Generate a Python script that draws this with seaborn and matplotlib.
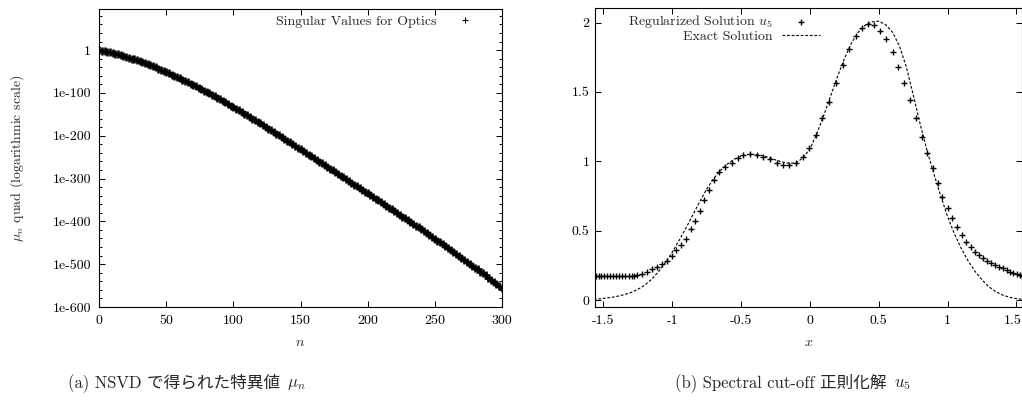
import numpy as np
import matplotlib
matplotlib.use("Agg")
import matplotlib.pyplot as plt
import matplotlib.transforms as mtransforms
import seaborn as sns
from matplotlib.offsetbox import TextArea, HPacker, AnnotationBbox

# --- datos: (a) valores singulares (log10 mu_n), (b) solucion regularizada / exacta ---
n_idx = list(range(0, 301, 2))
mu_log10 = [0,
            -1.0, -2.2, -3.6, -5.0, -6.5,
            -8.2, -9.9, -11.7, -13.6, -15.5,
            -17.5, -19.6, -21.7, -23.8, -26,
            -28.3, -30.7, -33.1, -35.5, -38,
            -40.6, -43.3, -45.9, -48.6, -51.3,
            -54.2, -57.1, -60, -62.9, -65.8,
            -68.9, -72, -75.1, -78.2, -81.3,
            -84.6, -87.9, -91.2, -94.5, -97.8,
            -101.3, -104.7, -108.2, -111.6, -115.1,
            -118.7, -122.3, -126, -129.6, -133.2,
            -137, -140.7, -144.5, -148.2, -152,
            -155.9, -159.8, -163.6, -167.5, -171.4,
            -175.4, -179.4, -183.3, -187.3, -191.3,
            -195.3, -199.4, -203.4, -207.5, -211.5,
            -215.6, -219.7, -223.8, -227.8, -231.9,
            -236, -240.1, -244.2, -248.3, -252.4,
            -256.5, -260.6, -264.7, -268.8, -272.9,
            -277, -281.1, -285.2, -289.3, -293.4,
            -297.5, -301.6, -305.7, -309.8, -313.9,
            -318, -322.1, -326.3, -330.4, -334.5,
            -338.6, -342.8, -346.9, -351.1, -355.2,
            -359.4, -363.6, -367.7, -371.9, -376.1,
            -380.3, -384.5, -388.8, -393, -397.2,
            -401.5, -405.8, -410, -414.3, -418.6,
            -422.9, -427.3, -431.6, -436, -440.3,
            -444.7, -449.1, -453.5, -458, -462.4,
            -466.9, -471.4, -475.9, -480.4, -484.9,
            -489.5, -494, -498.6, -503.2, -507.8,
            -512.4, -517.1, -521.7, -526.4, -531.1,
            -535.8, -540.6, -545.3, -550.1, -554.8]
mu_ticks = [0, -100, -200, -300, -400, -500, -600]
mu_ticklabels = ["1", "1e-100", "1e-200", "1e-300", "1e-400", "1e-500", "1e-600"]
n_ticks = [0, 50, 100, 150, 200, 250, 300]

x_exact = [-1.57, -1.50, -1.45, -1.40, -1.35, -1.30, -1.25, -1.20, -1.15, -1.10,
           -1.05, -1.00, -0.95, -0.90, -0.85, -0.80, -0.75, -0.70, -0.65, -0.60,
           -0.55, -0.50, -0.45, -0.40, -0.35, -0.30, -0.25, -0.20, -0.15, -0.10,
           -0.05, 0.00, 0.05, 0.10, 0.15, 0.20, 0.25, 0.30, 0.35, 0.40,
           0.45, 0.50, 0.55, 0.60, 0.65, 0.70, 0.75, 0.80, 0.85, 0.90,
           0.95, 1.00, 1.05, 1.10, 1.15, 1.20, 1.25, 1.30, 1.35, 1.40,
           1.45, 1.50, 1.57]
u_exact = [0.004, 0.012, 0.018, 0.027, 0.039, 0.054, 0.077, 0.107, 0.15, 0.205,
           0.27, 0.345, 0.43, 0.52, 0.615, 0.71, 0.80, 0.875, 0.935, 0.98,
           1.015, 1.037, 1.05, 1.05, 1.042, 1.028, 1.01, 0.995, 0.985, 0.99,
           1.025, 1.09, 1.20, 1.33, 1.47, 1.61, 1.74, 1.85, 1.93, 1.98,
           2.005, 2.01, 1.985, 1.93, 1.83, 1.68, 1.48, 1.27, 1.08, 0.91,
           0.75, 0.60, 0.475, 0.37, 0.28, 0.205, 0.145, 0.095, 0.06, 0.036,
           0.02, 0.01, 0.003]

x_reg = [-1.555, -1.535, -1.515, -1.495, -1.475, -1.452, -1.43, -1.408, -1.385, -1.362,
         -1.34, -1.317, -1.295, -1.277, -1.259, -1.222, -1.186, -1.150, -1.113, -1.077,
         -1.041, -1.004, -0.975, -0.937, -0.903, -0.866, -0.833, -0.799, -0.770, -0.733,
         -0.697, -0.659, -0.617, -0.569, -0.525, -0.484, -0.436, -0.387, -0.339, -0.29,
         -0.242, -0.194, -0.150, -0.102, -0.053, -0.007, 0.041, 0.090, 0.138, 0.189,
         0.237, 0.286, 0.334, 0.375, 0.424, 0.467, 0.508, 0.552, 0.60, 0.641,
         0.685, 0.726, 0.770, 0.811, 0.852, 0.891, 0.927, 0.961, 1.0, 1.034,
         1.065, 1.101, 1.133, 1.167, 1.198, 1.23, 1.259, 1.288, 1.317, 1.343,
         1.373, 1.399, 1.428, 1.452, 1.477, 1.501, 1.525, 1.54]
u_reg = [0.17, 0.17, 0.17, 0.17, 0.17, 0.17, 0.17, 0.17, 0.171, 0.171,
         0.172, 0.173, 0.174, 0.175, 0.178, 0.187, 0.204, 0.221, 0.240, 0.257,
         0.283, 0.317, 0.36, 0.397, 0.437, 0.51, 0.572, 0.644, 0.721, 0.793,
         0.865, 0.925, 0.961, 0.985, 1.021, 1.045, 1.053, 1.045, 1.033, 1.014,
         0.99, 0.973, 0.973, 0.99, 1.029, 1.094, 1.19, 1.31, 1.43, 1.567,
         1.694, 1.807, 1.903, 1.959, 1.99, 1.983, 1.942, 1.88, 1.79, 1.682,
         1.562, 1.442, 1.31, 1.178, 1.058, 0.95, 0.841, 0.745, 0.661, 0.589,
         0.524, 0.469, 0.42, 0.384, 0.348, 0.324, 0.3, 0.283, 0.264, 0.252,
         0.24, 0.228, 0.216, 0.204, 0.192, 0.187, 0.178, 0.176]
u_ticks = [0, 0.5, 1, 1.5, 2]
u_ticklabels = ["0", "0.5", "1", "1.5", "2"]
x_ticks = [-1.5, -1, -0.5, 0, 0.5, 1, 1.5]
x_ticklabels = ["-1.5", "-1", "-0.5", "0", "0.5", "1", "1.5"]

# --- estilo ---
sns.set_style("ticks")
plt.rcParams["font.family"] = ["cmr10", "Noto Sans CJK JP"]
plt.rcParams["mathtext.fontset"] = "cm"
plt.rcParams["axes.unicode_minus"] = False
plt.rcParams["font.size"] = 10

fig = plt.figure(figsize=(10.22, 4.19), dpi=100)
ax1 = fig.add_axes([0.0972, 0.2673, 0.3937, 0.7112])
ax2 = fig.add_axes([0.5822, 0.2673, 0.4178, 0.7136])

for ax in (ax1, ax2):
    for s in ax.spines.values():
        s.set_linewidth(0.8)
        s.set_color("black")
    ax.tick_params(which="both", direction="in", top=True, right=True,
                   colors="black", labelsize=10, width=0.7)
    ax.tick_params(which="major", length=4.5)
    ax.tick_params(which="minor", length=2.5)

# --- (a) ---
sns.lineplot(x=n_idx, y=mu_log10, ax=ax1, color="black", marker="+", linestyle="none",
             markersize=6, markeredgewidth=1.8, markeredgecolor="black", estimator=None,
             label="Singular Values for Optics")
ax1.set_xlim(0, 300)
ax1.set_ylim(-600, 96)
ax1.set_xticks(n_ticks)
ax1.set_xticklabels([str(v) for v in n_ticks])
ax1.set_yticks(mu_ticks)
ax1.set_yticklabels(mu_ticklabels)
ax1.set_yticks(np.arange(-600, 96, 20), minor=True)
ax1.tick_params(axis="x", pad=6)
ax1.tick_params(axis="y", pad=6)
ax1.set_xlabel("$n$", labelpad=7)
ax1.set_ylabel("$\\mu_n$ quad (logarithmic scale)", labelpad=19)
leg1 = ax1.legend(loc="upper right", bbox_to_anchor=(0.9476, 0.997), frameon=False,
                  markerfirst=False, handlelength=1.44, handletextpad=1.3,
                  borderaxespad=0, fontsize=10)
for h in leg1.legend_handles:
    h.set_markersize(4)
    h.set_markeredgewidth(0.8)

# --- (b) ---
sns.scatterplot(x=x_reg, y=u_reg, ax=ax2, color="black", marker="+", s=16,
                linewidth=1.0, label="Regularized Solution $u_5$", zorder=3)
sns.lineplot(x=x_exact, y=u_exact, ax=ax2, color="black", linewidth=0.8,
             linestyle=(0, (2.5, 1.6)), estimator=None, label="Exact Solution")
ax2.set_xlim(-1.561, 1.540)
ax2.set_ylim(-0.05, 2.105)
ax2.set_xticks(x_ticks)
ax2.set_xticklabels(x_ticklabels)
ax2.set_yticks(u_ticks)
ax2.set_yticklabels(u_ticklabels)
ax2.tick_params(axis="x", pad=6)
ax2.tick_params(axis="y", pad=4)
ax2.set_xlabel("$x$", labelpad=7)
ax2.set_ylabel("")
ax2.legend(loc="upper right", bbox_to_anchor=(0.540, 1.001), frameon=False,
           markerfirst=False, handlelength=2.73, handletextpad=0.65,
           borderaxespad=0, labelspacing=0.0, fontsize=10)
# la ultima etiqueta queda pegada al borde: se corre unos pixeles a la izquierda
last_lbl = ax2.get_xticklabels()[-1]
last_lbl.set_transform(last_lbl.get_transform() +
                       mtransforms.ScaledTranslation(-4 / 100, 0, fig.dpi_scale_trans))

# --- leyendas de figura (texto + formula en cajas separadas) ---
def caption(xf, yf, plain, math):
    box = HPacker(children=[TextArea(plain, textprops=dict(fontsize=12)),
                            TextArea(math, textprops=dict(fontsize=12))],
                  align="baseline", pad=0, sep=5)
    ab = AnnotationBbox(box, (xf, yf), xycoords="figure fraction", frameon=False,
                        box_alignment=(0.5, 0.5))
    fig.add_artist(ab)

caption(0.183, 0.088, "(a) NSVD で得られた特異値", "$\\mu_n$")
caption(0.776, 0.088, "(b) Spectral cut-off 正則化解", "$u_5$")

fig.savefig("out.png", dpi=100)
